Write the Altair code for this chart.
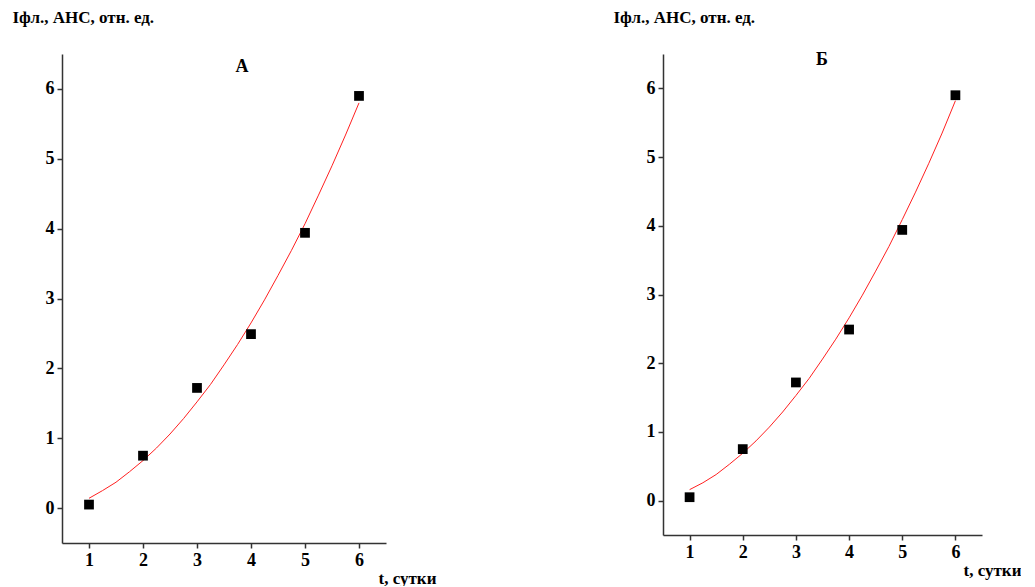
import altair as alt
import pandas as pd

# measured points (days, relative units)
days = [1, 2, 3, 4, 5, 6]
vals_a = [0.05, 0.75, 1.72, 2.49, 3.94, 5.90]
vals_b = [0.05, 0.75, 1.72, 2.49, 3.94, 5.90]

# red fitted curve
curve_t = [1.0, 1.25, 1.5, 1.75, 2.0, 2.25, 2.5, 2.75, 3.0, 3.25, 3.5,
           3.75, 4.0, 4.25, 4.5, 4.75, 5.0, 5.25, 5.5, 5.75, 6.0]
curve_a = [0.14, 0.25, 0.37, 0.52, 0.68, 0.86, 1.06, 1.28, 1.52, 1.77, 2.05,
           2.34, 2.65, 2.98, 3.33, 3.69, 4.07, 4.48, 4.90, 5.34, 5.80]
curve_b = [0.16, 0.26, 0.38, 0.53, 0.69, 0.87, 1.07, 1.29, 1.53, 1.78, 2.06,
           2.35, 2.66, 2.99, 3.34, 3.70, 4.09, 4.49, 4.91, 5.35, 5.82]

x_ticks = [1, 2, 3, 4, 5, 6]
y_ticks = [0, 1, 2, 3, 4, 5, 6]
panel_labels = ["А", "Б"]

FONT = "Liberation Serif"
y_title = "Iфл., АНС, отн. ед."
x_title = "t, сутки"


def panel(label, vals, curve, w, h, lx, ly, tx):
    pts = pd.DataFrame({"t": days, "v": vals})
    cur = pd.DataFrame({"t": curve_t, "v": curve})
    xs = alt.Scale(domain=[0.5, 6.5], nice=False, zero=False)
    ys = alt.Scale(domain=[-0.5, 6.5], nice=False, zero=False)
    xax = alt.Axis(values=x_ticks, title=x_title, grid=False, format="d",
                   titleAlign="left", titleX=tx, titleY=35,
                   titleBaseline="middle", titleAnchor="start")
    yax = alt.Axis(values=y_ticks, title=y_title, grid=False, format="d",
                   titleAngle=0, titleAlign="left", titleX=-50, titleY=-37,
                   titleBaseline="middle", titleAnchor="start")
    line = alt.Chart(cur).mark_line(color="#ff2020", strokeWidth=1).encode(
        x=alt.X("t:Q", scale=xs, axis=xax),
        y=alt.Y("v:Q", scale=ys, axis=yax),
    )
    sq = alt.Chart(pts).mark_point(shape="square", filled=True, color="black",
                                   size=95, opacity=1).encode(
        x=alt.X("t:Q", scale=xs),
        y=alt.Y("v:Q", scale=ys),
    )
    lab = alt.Chart(pd.DataFrame({"s": [label]})).mark_text(
        font=FONT, fontSize=18, fontWeight="bold", color="black",
        align="center", baseline="middle",
    ).encode(text="s:N", x=alt.value(lx), y=alt.value(ly))
    return alt.layer(line, sq, lab).properties(width=w, height=h)


chart = alt.hconcat(
    panel(panel_labels[0], vals_a, curve_a, 324, 489, 180, 13, 316),
    panel(panel_labels[1], vals_b, curve_b, 319, 481, 159, 6, 300),
    spacing=177,
).configure_view(stroke=None).configure_axis(
    domainColor="#333333", domainWidth=1.5, tickColor="#333333", tickWidth=1.5,
    tickSize=5, labelFont=FONT, labelFontSize=18, labelFontWeight="bold",
    labelColor="black", labelPadding=3, titleFont=FONT, titleFontSize=17,
    titleFontWeight="bold", titleColor="black",
).properties(padding={"left": 4, "top": 0, "right": 0, "bottom": 0})

chart.save("out.html", embed_options={"renderer": "svg", "actions": False})
